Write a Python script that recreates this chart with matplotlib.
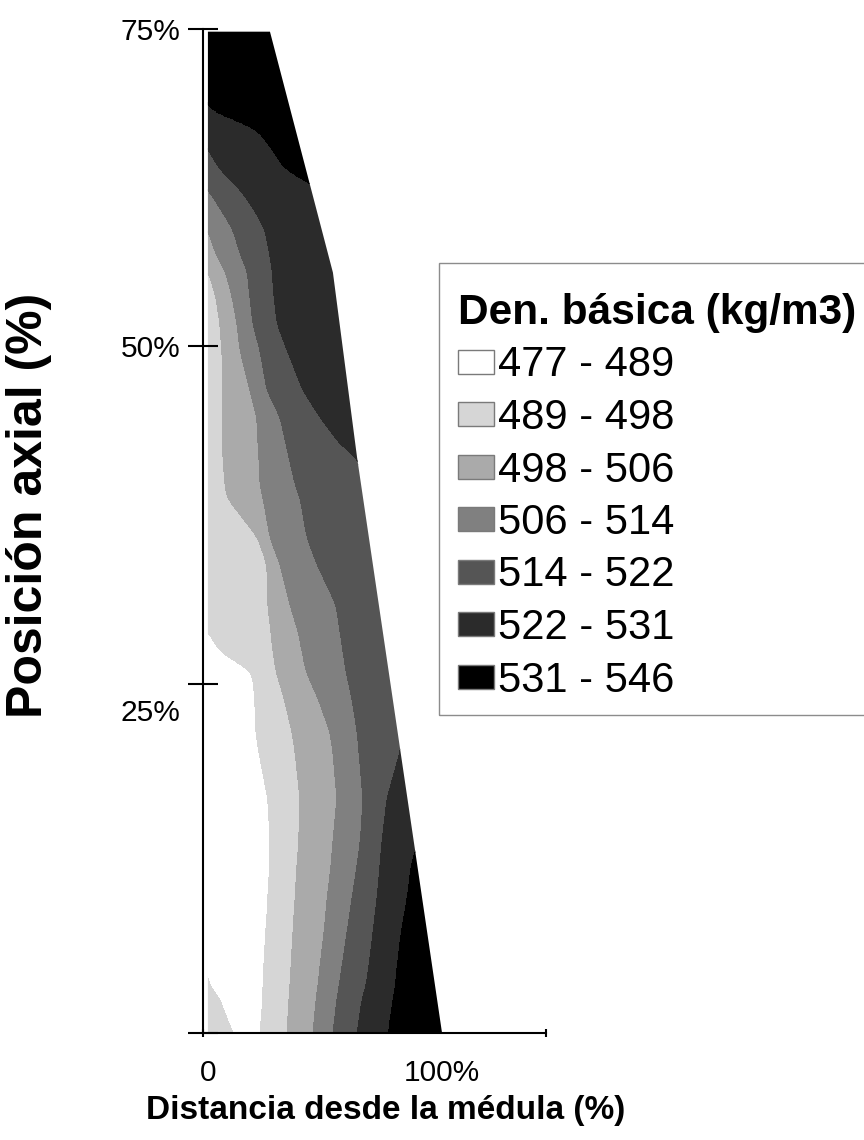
import matplotlib.pyplot as plt
import numpy as np
from matplotlib.patches import Patch, Polygon, Rectangle
from matplotlib.transforms import ScaledTranslation

plt.rcParams["font.family"] = ["Liberation Sans", "DejaVu Sans"]

# density classes (kg/m3) and their grey fills
levels = [477, 489, 498, 506, 514, 522, 531, 546]
class_colors = ["#ffffff", "#d6d6d6", "#aaaaaa", "#808080", "#555555", "#2b2b2b", "#000000"]

# stem profile: radial distance (%) vs axial position
outline_r = [0, 100, 63.7, 53.4, 26.5, 0]
outline_h = [0, 0, 43.0, 56.8, 74.8, 74.8]

# axial positions where the class boundaries were traced (top to bottom)
heights = [75, 72, 69, 67.5, 66, 64.5, 63, 61.5, 60, 58, 57, 55, 53, 51, 48, 46,
           44, 43, 41, 40, 37, 35, 32, 30, 28.5, 27, 25, 22.5, 21, 17.5, 15, 13.5,
           12.5, 10, 7.5, 5, 3.5, 2.5, 0]

# radial position (%) of each class boundary at those heights;
# negative = boundary lies left of the pith, nan = boundary lies past the bark
r489 = [-18] * 23 + [0, 5.1, 18.8, 20.1, 20.5, 21.8, 25.6, 26.5, 26.5, 26.5, 25.6,
                     24.8, 23.9, 23.5, 23.5, 22.2]
r498 = [-15] * 10 + [0, 3.4, 5.1, 6.0, 6.4, 6.0, 6.4, 6.4, 7.3, 8.1, 21.4, 25.2, 25.6,
                     26.9, 27.8, 29.1, 32.5, 35.9, 37.2, 39.3, 38.9, 38.5, 38.0, 37.2,
                     36.3, 35.5, 35.0, 34.6, 33.8]
r506 = [-12] * 8 + [0, 3.8, 7.3, 10.3, 12.4, 13.7, 17.9, 20.9, 21.4, 21.8, 22.2, 23.5,
                    26.5, 30.8, 35.0, 38.5, 40.2, 41.9, 47.0, 52.1, 53.4, 55.1, 53.8,
                    53.0, 52.6, 50.9, 49.6, 47.9, 47.0, 46.2, 44.9]
r514 = [-9] * 6 + [0, 5.6, 10.7, 14.1, 16.7, 17.9, 19.2, 22.2, 25.2, 30.8, 33.3, 34.6,
                   37.2, 39.3, 42.3, 46.6, 54.7, 56.4, 57.7, 59.0, 61.5, 63.7, 64.5,
                   66.2, 65.4, 64.5, 63.7, 61.5, 59.4, 57.3, 56.0, 55.1, 53.4]
r522 = ([-6] * 4 + [0, 5.1, 13.7, 19.7, 24.4, 26.5, 27.4, 28.2, 29.5, 33.8, 40.6, 47.9,
                    56.4, 63.7]
        + [np.nan] * 10
        + [82.1, 76.5, 74.8, 73.9, 73.5, 72.2, 70.5, 68.8, 67.5, 65.8, 63.7])
r531 = ([-3, -3, 0, 20.9, 27.4, 32.9] + [np.nan] * 25
        + [88.3, 86.8, 85.0, 82.5, 80.8, 80.0, 79.0, 77.0])
# small 489-498 pocket next to the pith at the base
r489_pith = [np.nan] * 35 + [-2, 1.3, 5.1, 10.7]


def smooth(v, n=21):
    k = np.hanning(n)
    k /= k.sum()
    return np.convolve(np.pad(v, n // 2, mode="edge"), k, mode="valid")


# bark position at each traced height (right side of the outline)
bark_r = np.interp(heights, outline_h[1:5], outline_r[1:5])
boundaries = [np.array(r489), np.array(r498), np.array(r506), np.array(r514),
              np.where(np.isnan(r522), bark_r + 2, r522),
              np.where(np.isnan(r531), bark_r + 4, r531)]

h_up = np.array(heights)[::-1]
hf = np.linspace(0, 75, 751)
xg = np.linspace(-3, 106, 437)
bf = [smooth(np.interp(hf, h_up, b[::-1])) for b in boundaries]
pith = np.array(r489_pith)[::-1]
ok = ~np.isnan(pith)
pf = np.where(hf <= h_up[ok].max(), np.interp(hf, h_up[ok], pith[ok]), np.nan)

# density field: linear between class boundaries along each row
Z = np.empty((len(hf), len(xg)))
for i in range(len(hf)):
    bx = [b[i] for b in bf]
    bv = levels[1:7]
    if np.isnan(pf[i]):
        nx = [-40] + bx + [200]
        nv = [480] + bv + [546]
    else:
        nx = [-40, pf[i], (pf[i] + bx[0]) / 2] + bx + [200]
        nv = [495, 489, 483] + bv + [546]
    Z[i] = np.interp(xg, nx, nv)

fig = plt.figure(figsize=(8.64, 11.4), dpi=100)
ax = fig.add_axes([203 / 864, 1 - 1033 / 1140, 343 / 864, 1004 / 1140])

cs = ax.contourf(xg, hf, Z, levels=levels, colors=class_colors)
stem = Polygon(np.column_stack([outline_r, outline_h]), closed=True,
               transform=ax.transData)
cs.set_clip_path(stem)

ax.set_xlim(-2.1, 144.4)
ax.set_ylim(0, 75)

for side in ["top", "right"]:
    ax.spines[side].set_visible(False)
for side in ["left", "bottom"]:
    ax.spines[side].set_linewidth(1.5)

ytick_pos = [0, 26.1, 51.3, 75]
ytick_labels = ["", "25%", "50%", "75%"]
ax.set_yticks(ytick_pos, ytick_labels)
ax.tick_params(axis="y", direction="inout", length=21.6, width=1.5, pad=5.5,
               labelsize=21.5)

ax.set_xticks([0, 100], ["0", "100%"])
ax.tick_params(axis="x", which="major", length=0, pad=19, labelsize=21.5)
ax.set_xticks([-2.1, 144.4], minor=True)
ax.tick_params(axis="x", which="minor", direction="inout", length=6, width=1.5)

# the 25% label sits a little under its tick
lab25 = ax.get_yticklabels()[1]
lab25.set_transform(lab25.get_transform()
                    + ScaledTranslation(0, -0.26, fig.dpi_scale_trans))

ax.set_xlabel("Distancia desde la médula (%)", fontsize=24, fontweight="bold")
ax.xaxis.set_label_coords(0.531, -0.0618)
ax.set_ylabel("Posición axial (%)", fontsize=36, fontweight="bold")
ax.yaxis.set_label_coords(-0.44, 0.526)

handles = [Patch(facecolor=c, edgecolor="#7a7a7a", linewidth=1) for c in class_colors]
labels = [f"{levels[i]} - {levels[i + 1]}" for i in range(len(class_colors))]
fig.legend(handles, labels, title="Den. básica (kg/m3)", loc="upper left",
           bbox_to_anchor=(458 / 864, 1 - 293 / 1140), frameon=False,
           fontsize=30, title_fontproperties={"weight": "bold", "size": 30.5},
           alignment="left", handlelength=0.86, handleheight=0.52,
           handletextpad=0.1, labelspacing=0.3, borderpad=0, borderaxespad=0)
fig.add_artist(Rectangle((439 / 864, 1 - 715 / 1140), 0.6, (715 - 263) / 1140,
                         transform=fig.transFigure, fill=False,
                         edgecolor="#8c8c8c", linewidth=1))

fig.savefig("out.png", dpi=100)
